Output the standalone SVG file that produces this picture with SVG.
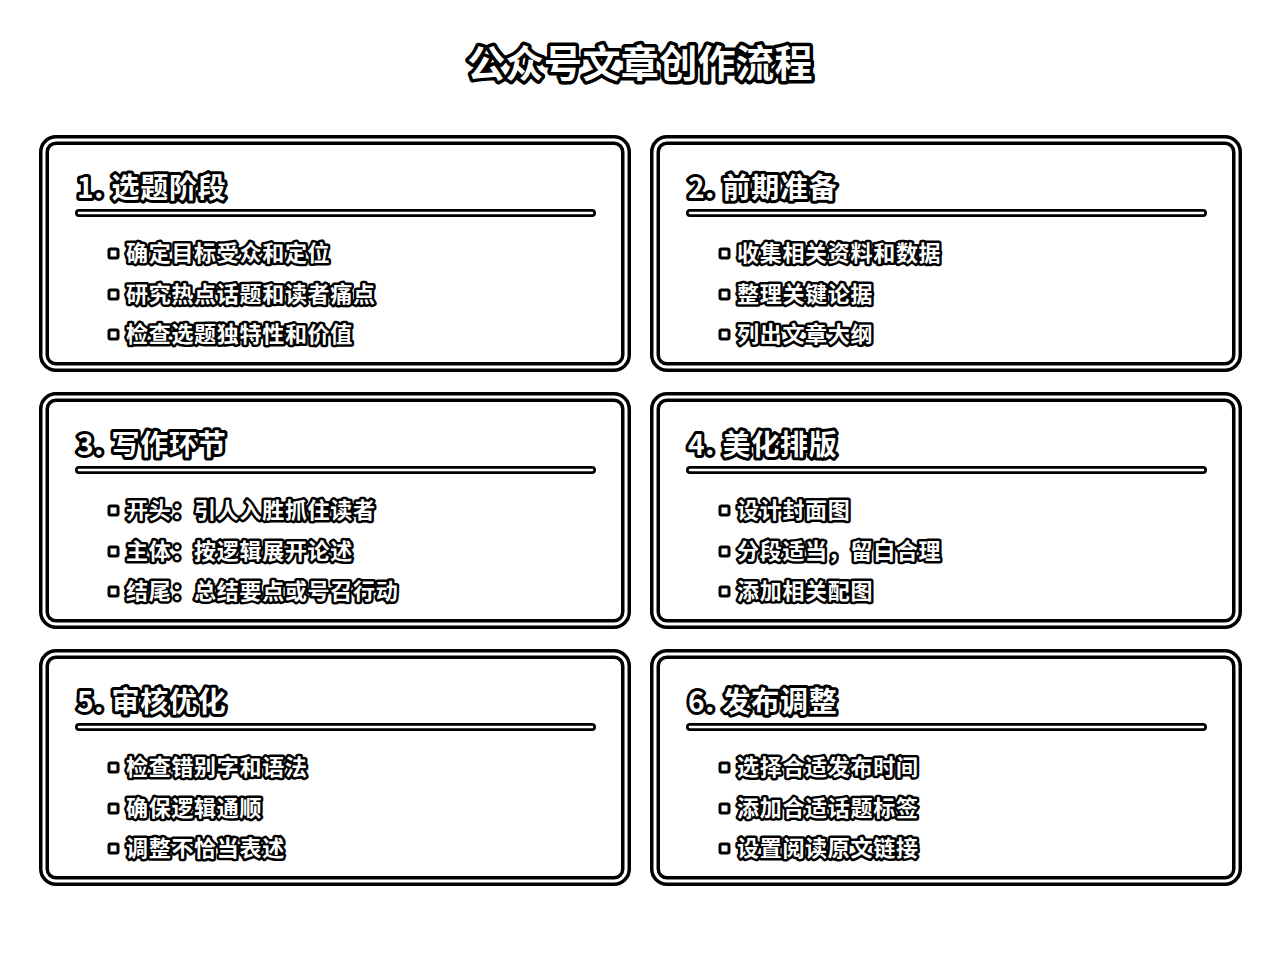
<svg xmlns="http://www.w3.org/2000/svg" width="1280" height="955" viewBox="0 0 1280 955">
<style>
.t{font-family:"Noto Sans CJK SC","Noto Sans",sans-serif;font-weight:bold;fill:#fff;stroke:#000;paint-order:stroke;stroke-linejoin:round}
.title{font-size:38px;stroke-width:7px;letter-spacing:0.4px}
.h{font-size:28px;stroke-width:6px;letter-spacing:0.8px}
.b{font-size:22px;stroke-width:5px;letter-spacing:0.7px}
.bo{fill:none;stroke:#000;stroke-width:10}
.bi{fill:none;stroke:#fff;stroke-width:3}
.uo{stroke:#000;stroke-width:8;stroke-linecap:round}
.ui{stroke:#fff;stroke-width:2.5;stroke-linecap:round}
.dot{fill:#fff;stroke:#000;stroke-width:3}
</style>
<defs>
<g id="frame">
<rect class="bo" x="44" y="140" width="582" height="227" rx="12"/>
<rect class="bi" x="44" y="140" width="582" height="227" rx="12"/>
<line class="uo" x1="79" y1="213" x2="592" y2="213"/>
<line class="ui" x1="79" y1="213" x2="592" y2="213"/>
<rect class="dot" x="109" y="249" width="9" height="9" rx="1.5"/>
<rect class="dot" x="109" y="290" width="9" height="9" rx="1.5"/>
<rect class="dot" x="109" y="330" width="9" height="9" rx="1.5"/>
</g>
</defs>
<rect width="1280" height="955" fill="#fff"/>
<text class="t title" x="640" y="77" text-anchor="middle">公众号文章创作流程</text>
<g id="connectors"/>
<g id="node1">
<use href="#frame"/>
<text class="t h" x="77" y="198">1. 选题阶段</text>
<text class="t b" x="126" y="261">确定目标受众和定位</text>
<text class="t b" x="126" y="302">研究热点话题和读者痛点</text>
<text class="t b" x="126" y="342">检查选题独特性和价值</text>
</g>
<g id="node2" transform="translate(611,0)">
<use href="#frame"/>
<text class="t h" x="77" y="198">2. 前期准备</text>
<text class="t b" x="126" y="261">收集相关资料和数据</text>
<text class="t b" x="126" y="302">整理关键论据</text>
<text class="t b" x="126" y="342">列出文章大纲</text>
</g>
<g id="node3" transform="translate(0,257)">
<use href="#frame"/>
<text class="t h" x="77" y="198">3. 写作环节</text>
<text class="t b" x="126" y="261">开头：引人入胜抓住读者</text>
<text class="t b" x="126" y="302">主体：按逻辑展开论述</text>
<text class="t b" x="126" y="342">结尾：总结要点或号召行动</text>
</g>
<g id="node4" transform="translate(611,257)">
<use href="#frame"/>
<text class="t h" x="77" y="198">4. 美化排版</text>
<text class="t b" x="126" y="261">设计封面图</text>
<text class="t b" x="126" y="302">分段适当，留白合理</text>
<text class="t b" x="126" y="342">添加相关配图</text>
</g>
<g id="node5" transform="translate(0,514)">
<use href="#frame"/>
<text class="t h" x="77" y="198">5. 审核优化</text>
<text class="t b" x="126" y="261">检查错别字和语法</text>
<text class="t b" x="126" y="302">确保逻辑通顺</text>
<text class="t b" x="126" y="342">调整不恰当表述</text>
</g>
<g id="node6" transform="translate(611,514)">
<use href="#frame"/>
<text class="t h" x="77" y="198">6. 发布调整</text>
<text class="t b" x="126" y="261">选择合适发布时间</text>
<text class="t b" x="126" y="302">添加合适话题标签</text>
<text class="t b" x="126" y="342">设置阅读原文链接</text>
</g>
</svg>
